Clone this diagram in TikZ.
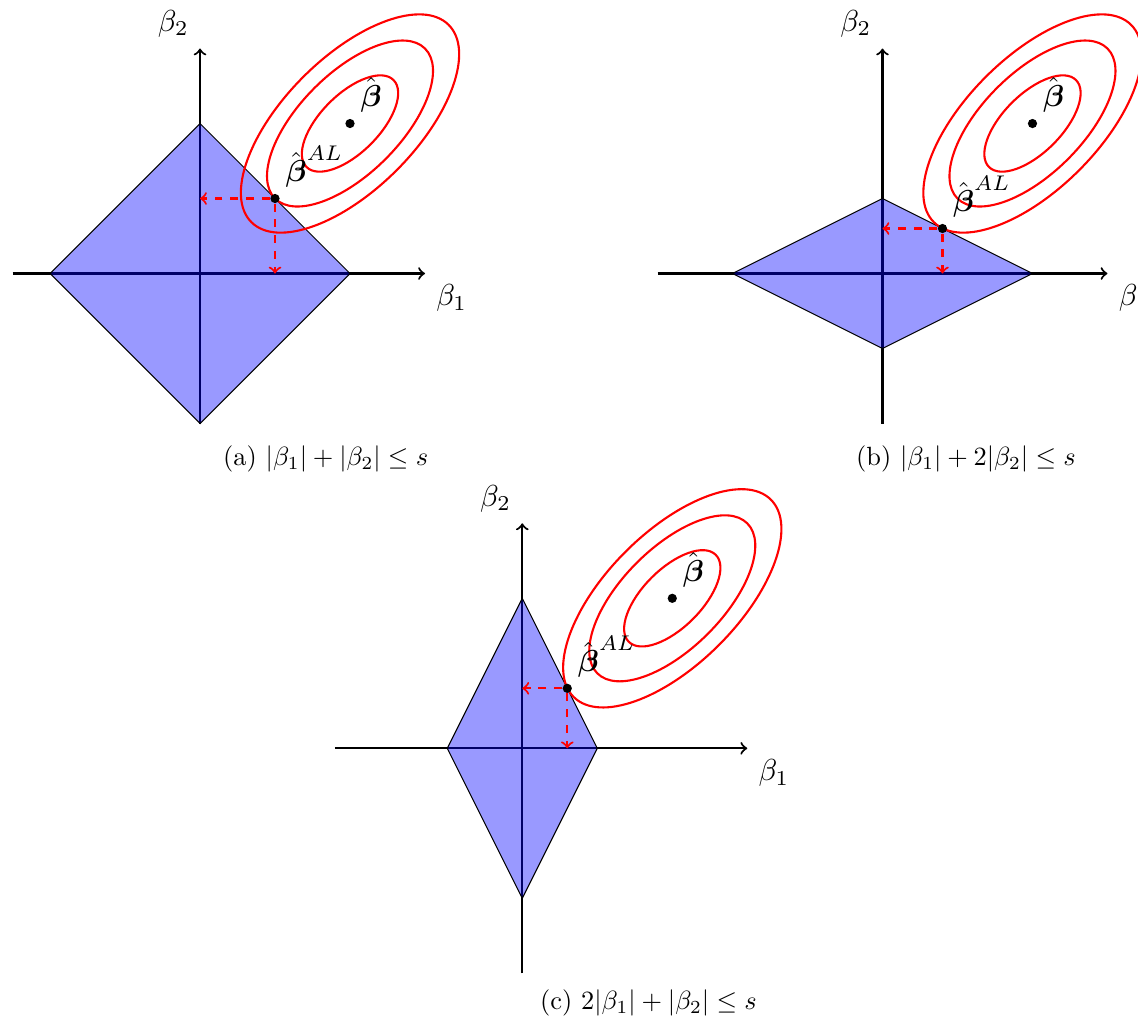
\documentclass[tikz,border=0pt]{standalone}
\usepackage{amsmath}
\usepackage{amssymb}
\begin{document}
\begin{tikzpicture}[
  axis/.style={thick,->},
  region/.style={fill=blue, fill opacity=0.4, draw=black, draw opacity=1, thin},
  contour/.style={red, thick},
  proj/.style={red, dashed, thick, ->},
  dotmark/.style={circle, fill=black, inner sep=0pt, minimum size=3.5pt},
  lbl/.style={scale=1.15},
]
\useasboundingbox (-2.667,-10.02) rectangle (12.507,3.647);
\clip (-2.667,-10.02) rectangle (12.507,3.647);

% ---------- panel (a) ----------
\begin{scope}[shift={(0,0)}]
  \draw[axis] (-2.5,0) -- (3,0) node[lbl, below right] (ax1) {$\beta_1$};
  \draw[axis] (0,-2) -- (0,3) node[lbl, above left] (ay1) {$\beta_2$};
  \path[region] (-2,0) -- (0,2) -- (2,0) -- (0,-2) -- cycle;
  \foreach \ra/\rb in {0.82/0.39, 1.414/0.67, 1.86/0.88}
    \draw[contour, rotate around={45:(2,2)}] (2,2) ellipse ({\ra} and {\rb});
  \node[dotmark] (abh) at (2,2) {};
  \node[lbl, above right] (abhl) at (abh.center) {$\hat{\boldsymbol{\beta}}$};
  \node[dotmark] (aal) at (1,1) {};
  \node[lbl, above right] (aall) at (aal.center) {$\hat{\boldsymbol{\beta}}^{AL}$};
  \coordinate (aay) at (0,1);
  \coordinate (aax) at (1,0);
  \draw[proj] (aal) -- (aay);
  \draw[proj] (aal) -- (aax);
\end{scope}
\node[anchor=base] (capa) at (1.676,-2.56) {(a) $|\beta_1|+|\beta_2|\leq s$};

% ---------- panel (b) ----------
\begin{scope}[shift={(9.1,0)}]
  \draw[axis] (-3,0) -- (3,0) node[lbl, below right] (bx1) {$\beta_1$};
  \draw[axis] (0,-2) -- (0,3) node[lbl, above left] (by1) {$\beta_2$};
  \path[region] (-2,0) -- (0,1) -- (2,0) -- (0,-1) -- cycle;
  \foreach \ra/\rb in {0.82/0.39, 1.414/0.67, 1.86/0.88}
    \draw[contour, rotate around={45:(2,2)}] (2,2) ellipse ({\ra} and {\rb});
  \node[dotmark] (bbh) at (2,2) {};
  \node[lbl, above right] (bbhl) at (bbh.center) {$\hat{\boldsymbol{\beta}}$};
  \node[dotmark] (bal) at (0.8,0.6) {};
  \node[lbl, above right] (ball) at (bal.center) {$\hat{\boldsymbol{\beta}}^{AL}$};
  \coordinate (bay) at (0,0.6);
  \coordinate (bax) at (0.8,0);
  \draw[proj] (bal) -- (bay);
  \draw[proj] (bal) -- (bax);
\end{scope}
\node[anchor=base] (capb) at (10.213,-2.56) {(b) $|\beta_1|+2|\beta_2|\leq s$};

% ---------- panel (c) ----------
\begin{scope}[shift={(4.297,-6.331)}]
  \draw[axis] (-2.5,0) -- (3,0) node[lbl, below right] (cx1) {$\beta_1$};
  \draw[axis] (0,-3) -- (0,3) node[lbl, above left] (cy1) {$\beta_2$};
  \path[region] (-1,0) -- (0,2) -- (1,0) -- (0,-2) -- cycle;
  \foreach \ra/\rb in {0.82/0.39, 1.414/0.67, 1.86/0.88}
    \draw[contour, rotate around={45:(2,2)}] (2,2) ellipse ({\ra} and {\rb});
  \node[dotmark] (cbh) at (2,2) {};
  \node[lbl, above right] (cbhl) at (cbh.center) {$\hat{\boldsymbol{\beta}}$};
  \node[dotmark] (cal) at (0.6,0.8) {};
  \node[lbl, above right] (call) at (cal.center) {$\hat{\boldsymbol{\beta}}^{AL}$};
  \coordinate (cay) at (0,0.8);
  \coordinate (cax) at (0.6,0);
  \draw[proj] (cal) -- (cay);
  \draw[proj] (cal) -- (cax);
\end{scope}
\node[anchor=base] (capc) at (5.98,-9.82) {(c) $2|\beta_1|+|\beta_2|\leq s$};
\end{tikzpicture}
\end{document}
